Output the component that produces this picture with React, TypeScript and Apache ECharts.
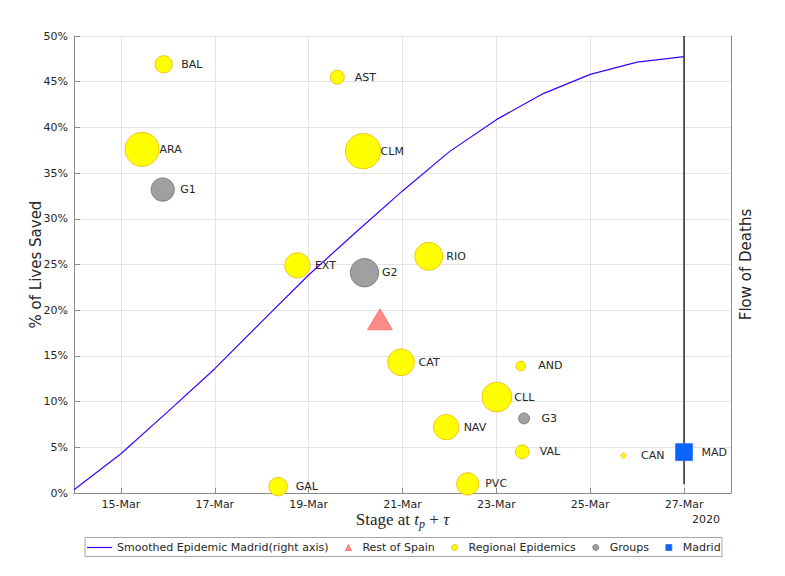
import React, { useEffect, useRef } from 'react';
import * as echarts from 'echarts';

// ---- data ----
const xTickDays = [15, 17, 19, 21, 23, 25, 27];

const regionNames = ['BAL', 'AST', 'ARA', 'CLM', 'EXT', 'RIO', 'CAT', 'AND', 'CLL', 'NAV', 'VAL', 'CAN', 'PVC', 'GAL'];
const regionDay = [15.91, 19.61, 15.45, 20.16, 18.76, 21.56, 20.97, 23.52, 23.01, 21.93, 23.55, 25.71, 22.39, 18.35];
const regionSaved = [46.9, 45.5, 37.6, 37.4, 24.9, 25.9, 14.3, 13.9, 10.5, 7.2, 4.5, 4.1, 1.0, 0.7];
const regionWeight = [17.3, 14, 34, 35.3, 25.3, 28, 26.7, 9.7, 29.7, 25.3, 13.7, 5, 22.3, 18.5];

const groupNames = ['G1', 'G2', 'G3'];
const groupDay = [15.89, 20.19, 23.59];
const groupSaved = [33.2, 24.1, 8.16];
const groupWeight = [23.3, 28.3, 11];

const restDay = [20.52];
const restSaved = [19.0];

const madridNames = ['MAD'];
const madridDay = [27];
const madridSaved = [4.47];
const madridWeight = [17];

const curveDays = [14, 15, 16, 17, 18, 19, 20, 21, 22, 23, 24, 25, 26, 27];
const curveFlow = [0.7, 8.6, 17.8, 27.2, 37.5, 47.7, 57.0, 66.1, 74.7, 81.7, 87.4, 91.6, 94.3, 95.5];

const stageLineDay = 27;
const stageLineFlow = [1.9, 100];

const FONT = "'DejaVu Sans', sans-serif";
const TXT = '#262626';
const AXIS = '#8c8c8c';
const GRID = '#e4e4e4';
const CURVE = '#3c00ff';

const LINE_NAME = 'Smoothed Epidemic Madrid(right axis)';

const YELLOW = { color: '#ffff00', borderColor: '#f0b400', borderWidth: 0.8, opacity: 1 };
const GRAY = { color: '#a0a0a0', borderColor: '#6e6e6e', borderWidth: 0.8, opacity: 1 };
const RED = { color: '#ff8a8a', borderColor: '#ff6a6a', borderWidth: 0.8, opacity: 1 };
const BLUE = { color: '#0a64ff', borderColor: '#3a70e6', borderWidth: 0.8, opacity: 1 };

function pts(days: number[], vals: number[], w: number[] | null, names: string[] | null) {
  return days.map((d, i) => [d, vals[i], w ? w[i] : 0, names ? names[i] : '']);
}

const bubbleLabel = {
  show: true,
  position: 'inside',
  align: 'left',
  verticalAlign: 'middle',
  offset: [17.5, 0],
  color: TXT,
  fontSize: 11,
  fontFamily: FONT,
  formatter: (p: any) => p.data[3],
};

export default function App() {
  const ref = useRef<HTMLDivElement>(null);
  useEffect(() => {
    if (!ref.current) return;
    const chart = echarts.init(ref.current, null, { renderer: 'svg' });
    const option: any = {
      animation: false,
      backgroundColor: '#ffffff',
      textStyle: { fontFamily: FONT },
      grid: { left: 74, right: 54, top: 36, bottom: 83, containLabel: false },
      xAxis: {
        type: 'value',
        min: 14,
        max: 28,
        axisLine: { show: true, lineStyle: { color: AXIS, width: 1 } },
        axisTick: { show: true, inside: true, length: 5, customValues: xTickDays, lineStyle: { color: AXIS } },
        axisLabel: {
          customValues: xTickDays,
          formatter: (v: number) => `${v}-Mar`,
          color: TXT,
          fontSize: 11,
          fontFamily: FONT,
          margin: 6,
        },
        splitLine: { show: true, lineStyle: { color: GRID, width: 1 } },
      },
      yAxis: [
        {
          type: 'value',
          min: 0,
          max: 50,
          interval: 5,
          position: 'left',
          name: '% of Lives Saved',
          nameLocation: 'middle',
          nameGap: 31,
          nameMoveOverlap: false,
          nameTextStyle: { color: TXT, fontSize: 15, fontFamily: FONT },
          axisLine: { show: true, lineStyle: { color: AXIS } },
          axisTick: { show: true, inside: true, length: 6, lineStyle: { color: AXIS } },
          axisLabel: { formatter: '{value}%', color: TXT, fontSize: 11, fontFamily: FONT, margin: 6 },
          splitLine: { show: true, lineStyle: { color: GRID, width: 1 } },
        },
        {
          type: 'value',
          min: 0,
          max: 100,
          position: 'right',
          name: 'Flow of Deaths',
          nameLocation: 'middle',
          nameRotate: 90,
          nameGap: 7,
          nameMoveOverlap: false,
          nameTextStyle: { color: TXT, fontSize: 15, fontFamily: FONT },
          axisLine: { show: true, lineStyle: { color: AXIS } },
          axisTick: { show: false },
          axisLabel: { show: false },
          splitLine: { show: false },
        },
      ],
      legend: [
        {
          data: [{ name: LINE_NAME, icon: 'rect', itemStyle: { color: CURVE, borderWidth: 0 } }],
          left: 87,
          top: 542,
          padding: 0,
          itemWidth: 25,
          itemHeight: 1.2,
          selectedMode: false,
          textStyle: { color: TXT, fontSize: 11, fontFamily: FONT },
        },
        {
          data: [
            { name: 'Rest of Spain', icon: 'triangle', itemStyle: RED },
            { name: 'Regional Epidemics', icon: 'circle', itemStyle: YELLOW },
            { name: 'Groups', icon: 'circle', itemStyle: GRAY },
            { name: 'Madrid', icon: 'rect', itemStyle: BLUE },
          ],
          left: 345,
          top: 542,
          padding: 0,
          itemWidth: 6,
          itemHeight: 6,
          itemGap: 16.5,
          selectedMode: false,
          textStyle: { color: TXT, fontSize: 11, fontFamily: FONT, padding: [0, 0, 0, 6] },
        },
      ],
      graphic: [
        {
          type: 'rect',
          shape: { x: 85, y: 537.5, width: 637, height: 19 },
          style: { fill: 'none', stroke: '#a6a6a6', lineWidth: 1 },
          silent: true,
        },
        {
          type: 'text',
          x: 720,
          y: 519,
          style: { text: '2020', align: 'right', verticalAlign: 'middle', fill: TXT, fontSize: 11, fontFamily: FONT },
        },
        {
          type: 'text',
          x: 402.5,
          y: 519,
          style: {
            text: '{n|Stage at }{i|t}{s|p}{n| + }{i|τ}',
            align: 'center',
            verticalAlign: 'middle',
            fill: TXT,
            rich: {
              n: { fontFamily: "'Liberation Serif', serif", fontSize: 17, lineHeight: 22, verticalAlign: 'middle', fill: TXT },
              i: { fontFamily: "'Liberation Serif', serif", fontSize: 17, fontStyle: 'italic', lineHeight: 22, verticalAlign: 'middle', fill: TXT },
              s: { fontFamily: "'Liberation Serif', serif", fontSize: 12, fontStyle: 'italic', lineHeight: 11, verticalAlign: 'bottom', fill: TXT },
            },
          },
        },
      ],
      series: [
        {
          name: 'stage',
          type: 'line',
          yAxisIndex: 1,
          data: stageLineFlow.map((v) => [stageLineDay, v]),
          symbol: 'none',
          lineStyle: { color: '#333333', width: 1.6 },
          itemStyle: { color: '#333333' },
          z: 1,
          silent: true,
        },
        {
          name: 'Regional Epidemics',
          type: 'scatter',
          data: pts(regionDay, regionSaved, regionWeight, regionNames),
          symbol: 'circle',
          symbolSize: (v: any) => v[2],
          itemStyle: YELLOW,
          label: bubbleLabel,
          z: 2,
        },
        {
          name: 'Groups',
          type: 'scatter',
          data: pts(groupDay, groupSaved, groupWeight, groupNames),
          symbol: 'circle',
          symbolSize: (v: any) => v[2],
          itemStyle: GRAY,
          label: bubbleLabel,
          z: 2,
        },
        {
          name: 'Rest of Spain',
          type: 'scatter',
          data: pts(restDay, restSaved, null, null),
          symbol: 'triangle',
          symbolSize: [25, 21],
          itemStyle: RED,
          z: 2,
        },
        {
          name: 'Madrid',
          type: 'scatter',
          data: pts(madridDay, madridSaved, madridWeight, madridNames),
          symbol: 'rect',
          symbolSize: (v: any) => v[2],
          itemStyle: BLUE,
          label: bubbleLabel,
          z: 3,
        },
        {
          name: LINE_NAME,
          type: 'line',
          yAxisIndex: 1,
          data: curveDays.map((d, i) => [d, curveFlow[i]]),
          symbol: 'none',
          lineStyle: { color: CURVE, width: 1.2 },
          itemStyle: { color: CURVE },
          z: 4,
        },
      ],
    };
    chart.setOption(option);
    return () => chart.dispose();
  }, []);
  return <div ref={ref} style={{ position: 'fixed', left: 0, top: 0, width: 785, height: 576 }} />;
}
